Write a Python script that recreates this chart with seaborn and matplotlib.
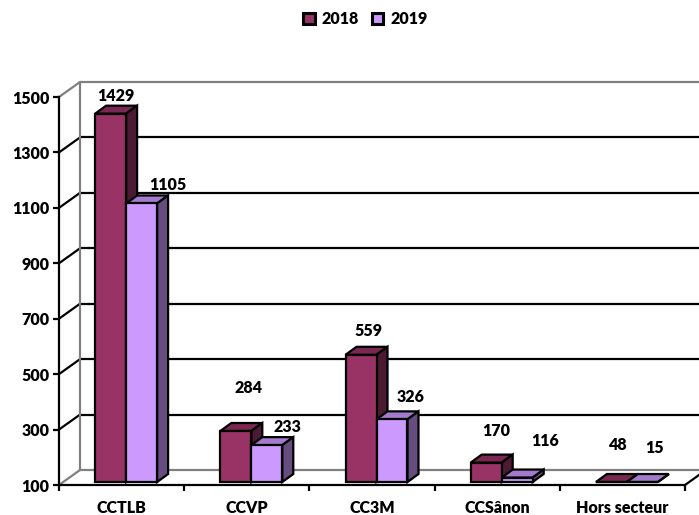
import matplotlib
matplotlib.use('Agg')
import matplotlib.pyplot as plt
from matplotlib.patches import Polygon
import pandas as pd
import seaborn as sns

# Data
categories = ['CCTLB', 'CCVP', 'CC3M', 'CCSânon', 'Hors secteur']
values_2018 = [1429, 284, 559, 170, 48]
values_2019 = [1105, 233, 326, 116, 15]
years = ['2018', '2019']
y_ticks = [100, 300, 500, 700, 900, 1100, 1300, 1500]

# Colours: front, top, side
colors_2018 = ['#993366', '#7A2852', '#4D1A33']
colors_2019 = ['#CC99FF', '#A37ACC', '#664D80']

# label offsets from bar top (pixels)
label_dx = [5, 13, 7, 10, 7, 26, 21, 19, 28, 12]
label_dy = [18, 43, 24, 32, 37, 18, 18, 22, 37, 34]

sns.set_style('white')
plt.rcParams['font.family'] = ['Lato', 'DejaVu Sans']
plt.rcParams['font.weight'] = 'heavy'
FS = 11.5
LW = 1.6

W, H = 699, 515
fig = plt.figure(figsize=(W / 100, H / 100), dpi=100)
ax = fig.add_axes([59 / W, (H - 485) / H, (685 - 59) / W, (485 - 97) / H])

df = pd.DataFrame({
    'cat': categories * 2,
    'year': [years[0]] * 5 + [years[1]] * 5,
    'val': values_2018 + values_2019,
})
sns.barplot(data=df, x='cat', y='val', hue='year', hue_order=years,
            palette=[colors_2018[0], colors_2019[0]], saturation=1,
            width=0.495, gap=0, edgecolor='black', linewidth=LW, ax=ax)
handles, labels = ax.get_legend_handles_labels()
ax.get_legend().remove()

ax.set_xlim(-0.5, 4.5)
ax.set_ylim(100, 1500)
px_x = (685 - 59) / 5
px_y = (485 - 97) / 1400


def dx(p):
    return p / px_x


def dy(p):
    return p / px_y


# back wall and side wall
wall_x, wall_y = dx(21), dy(15)
for t in y_ticks:
    c = '#808080' if t in (100, 1500) else 'black'
    ax.plot([-0.5 + wall_x, 4.5 + wall_x], [t + wall_y, t + wall_y], color=c,
            lw=LW, clip_on=False, zorder=1)
    ax.plot([-0.5, -0.5 + wall_x], [t, t + wall_y], color=c, lw=LW,
            clip_on=False, zorder=1)
ax.plot([-0.5 + wall_x] * 2, [100 + wall_y, 1500 + wall_y], color='#808080',
        lw=LW, clip_on=False, zorder=1)
ax.plot([4.5, 4.5 + wall_x], [100, 100 + wall_y], color='black', lw=LW,
        clip_on=False, zorder=1)

# bars: move onto the floor and add top and side faces
all_values = values_2018 + values_2019
depth_x, depth_y = dx(11), dy(8)
for i, (bar, v) in enumerate(zip(ax.patches, all_values)):
    face = colors_2018 if i < 5 else colors_2019
    base_z = 3 if i < 5 else 3.2
    x0 = bar.get_x() + dx(4.5)
    w = bar.get_width()
    y0 = 100 + dy(3)
    h = max(v, 100) - 100
    bar.set_x(x0)
    bar.set_y(y0)
    bar.set_height(h)
    bar.set_clip_on(False)
    bar.set_zorder(base_z + 0.1)
    y1 = y0 + h
    ax.add_patch(Polygon([(x0, y1), (x0 + w, y1), (x0 + w + depth_x, y1 + depth_y),
                          (x0 + depth_x, y1 + depth_y)], closed=True, fc=face[1],
                         ec='black', lw=LW, clip_on=False, zorder=base_z))
    ax.add_patch(Polygon([(x0 + w, y0), (x0 + w + depth_x, y0 + depth_y),
                          (x0 + w + depth_x, y1 + depth_y), (x0 + w, y1)], closed=True,
                         fc=face[2], ec='black', lw=LW, clip_on=False, zorder=base_z))
    ax.annotate(str(v), (x0 + w / 2, y1), xytext=(label_dx[i] * 0.72, label_dy[i] * 0.72),
                textcoords='offset points', ha='center', va='center',
                fontsize=FS, fontweight='heavy', color='black',
                annotation_clip=False, zorder=6)

sns.despine(ax=ax)
for s in ('left', 'bottom'):
    ax.spines[s].set_color('black')
    ax.spines[s].set_linewidth(LW)
    ax.spines[s].set_zorder(2)
ax.set_xlabel('')
ax.set_ylabel('')
ax.set_yticks(y_ticks)
ax.set_xticks([-0.5, 0.5, 1.5, 2.5, 3.5, 4.5])
ax.set_xticklabels([])
ax.set_xticks(range(5), categories, minor=True)
ax.tick_params(axis='x', which='major', bottom=True, length=4.5, width=LW, color='black')
ax.tick_params(axis='x', which='minor', bottom=False, pad=9, labelsize=FS, labelcolor='black')
ax.tick_params(axis='y', left=True, length=4.5, width=LW, color='black', pad=2.5,
               labelsize=FS, labelcolor='black')
for lab in ax.get_xticklabels(minor=True) + ax.get_yticklabels():
    lab.set_fontweight('heavy')

leg = fig.legend(handles, labels, loc='center', bbox_to_anchor=(365.5 / W, 1 - 19 / H), ncol=2,
                 frameon=False, fontsize=FS, handlelength=0.72, handleheight=0.72,
                 handletextpad=0.45, columnspacing=0.8, labelcolor='black')
for t in leg.get_texts():
    t.set_fontweight('heavy')
for patch in leg.get_patches():
    patch.set_linewidth(2.2)

fig.savefig('out.png', dpi=100)
